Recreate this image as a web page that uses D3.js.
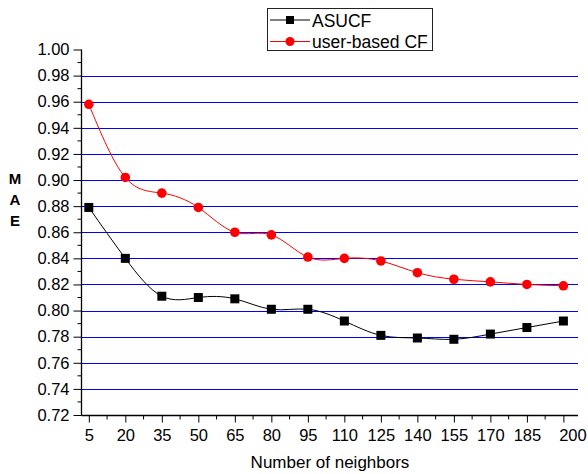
<!DOCTYPE html>
<html>
<head>
<meta charset="utf-8">
<script src="https://cdn.jsdelivr.net/npm/d3@7/dist/d3.min.js"></script>
<style>
  body { margin: 0; background: #fff; }
  svg { display: block; font-family: "Liberation Sans", Arial, sans-serif; }
</style>
</head>
<body>
<svg width="588" height="474"></svg>
<script>
const neighbors = [5, 20, 35, 50, 65, 80, 95, 110, 125, 140, 155, 170, 185, 200];
const asucf = [0.879, 0.840, 0.811, 0.810, 0.809, 0.801, 0.801, 0.792, 0.781, 0.779, 0.778, 0.782, 0.787, 0.792];
const userCF = [0.958, 0.902, 0.890, 0.879, 0.860, 0.858, 0.841, 0.840, 0.838, 0.829, 0.824, 0.822, 0.820, 0.819];
const yTicks = [0.72, 0.74, 0.76, 0.78, 0.80, 0.82, 0.84, 0.86, 0.88, 0.90, 0.92, 0.94, 0.96, 0.98, 1.00];
const gridValues = [0.74, 0.76, 0.78, 0.80, 0.82, 0.84, 0.86, 0.88, 0.90, 0.92, 0.94, 0.96, 0.98];
const seriesNames = ['ASUCF', 'user-based CF'];

const svg = d3.select('svg');
const x = d3.scaleLinear().domain([2.2, 206]).range([82, 578]);
const y = d3.scaleLinear().domain([0.72, 1.00]).range([415, 49.5]);

// grid lines
svg.append('g')
  .selectAll('line')
  .data(gridValues)
  .enter()
  .append('line')
  .attr('x1', x.range()[0])
  .attr('x2', x.range()[1])
  .attr('y1', d => Math.round(y(d)) + 0.5)
  .attr('y2', d => Math.round(y(d)) + 0.5)
  .attr('stroke', '#0000ff')
  .attr('stroke-width', 1);

// y axis
const yAxis = svg.append('g')
  .attr('transform', 'translate(81.5,0)')
  .call(d3.axisLeft(y).tickValues(yTicks).tickFormat(d3.format('.2f')).tickSize(8).tickPadding(4));
const yMinor = d3.range(0.73, 1.0, 0.02);
yAxis.selectAll('.minor')
  .data(yMinor)
  .enter()
  .append('line')
  .attr('x1', -4).attr('x2', 0)
  .attr('y1', d => y(d)).attr('y2', d => y(d))
  .attr('stroke', '#000');

// x axis
const xAxis = svg.append('g')
  .attr('transform', 'translate(0,415.5)')
  .call(d3.axisBottom(x).tickValues(neighbors).tickFormat(d3.format('d')).tickSize(7).tickPadding(7));
const xMinor = neighbors.slice(0, -1).map(d => d + 7.5);
xAxis.selectAll('.minor')
  .data(xMinor)
  .enter()
  .append('line')
  .attr('x1', d => x(d)).attr('x2', d => x(d))
  .attr('y1', 0).attr('y2', 4)
  .attr('stroke', '#000');
// last label sits shifted right in the original
xAxis.selectAll('.tick text').filter(d => d === 200).attr('dx', 9);

[yAxis, xAxis].forEach(g => {
  g.select('.domain').attr('stroke', '#000').attr('stroke-width', 1.3);
  g.selectAll('.tick line').attr('stroke', '#000');
  g.selectAll('.tick text')
    .attr('font-family', '"Liberation Sans", Arial, sans-serif')
    .attr('font-size', 16.5)
    .attr('fill', '#000');
});
yAxis.select('.domain').attr('d', 'M0,415.5V49.5');
xAxis.select('.domain').attr('d', 'M81.5,0H578');

// axis titles
svg.append('text')
  .attr('x', 330).attr('y', 468)
  .attr('text-anchor', 'middle')
  .attr('font-size', 17)
  .text('Number of neighbors');
const yTitle = svg.append('text')
  .attr('x', 15)
  .attr('text-anchor', 'middle')
  .attr('font-size', 15)
  .attr('font-weight', 'bold');
['M', 'A', 'E'].forEach((c, i) => {
  yTitle.append('tspan').attr('x', 15).attr('y', 184 + i * 21).text(c);
});

// series
const line = d3.line()
  .x((d, i) => x(neighbors[i]))
  .y(d => y(d))
  .curve(d3.curveNatural);

svg.append('path').datum(asucf)
  .attr('d', line).attr('fill', 'none').attr('stroke', '#000').attr('stroke-width', 1);
svg.append('path').datum(userCF)
  .attr('d', line).attr('fill', 'none').attr('stroke', '#ff0000').attr('stroke-width', 1);

svg.append('g').selectAll('rect')
  .data(asucf)
  .enter()
  .append('rect')
  .attr('x', (d, i) => x(neighbors[i]) - 4.5)
  .attr('y', d => y(d) - 4.5)
  .attr('width', 9).attr('height', 9)
  .attr('fill', '#000');

svg.append('g').selectAll('circle')
  .data(userCF)
  .enter()
  .append('circle')
  .attr('cx', (d, i) => x(neighbors[i]))
  .attr('cy', d => y(d))
  .attr('r', 4.8)
  .attr('fill', '#ff0000');

// legend
const legend = svg.append('g');
legend.append('rect')
  .attr('x', 267.5).attr('y', 8.5)
  .attr('width', 165).attr('height', 42)
  .attr('fill', '#fff').attr('stroke', '#222').attr('stroke-width', 1);
const colors = ['#000', '#ff0000'];
seriesNames.forEach((name, i) => {
  const cy = 20 + i * 21.5;
  legend.append('line')
    .attr('x1', 270).attr('x2', 310)
    .attr('y1', cy).attr('y2', cy)
    .attr('stroke', colors[i]);
  if (i === 0) {
    legend.append('rect').attr('x', 286).attr('y', cy - 4).attr('width', 8).attr('height', 8).attr('fill', colors[i]);
  } else {
    legend.append('circle').attr('cx', 290).attr('cy', cy).attr('r', 4.5).attr('fill', colors[i]);
  }
  legend.append('text')
    .attr('x', 312).attr('y', cy + 6.5)
    .attr('font-size', 17.5)
    .text(name);
});
</script>
</body>
</html>
